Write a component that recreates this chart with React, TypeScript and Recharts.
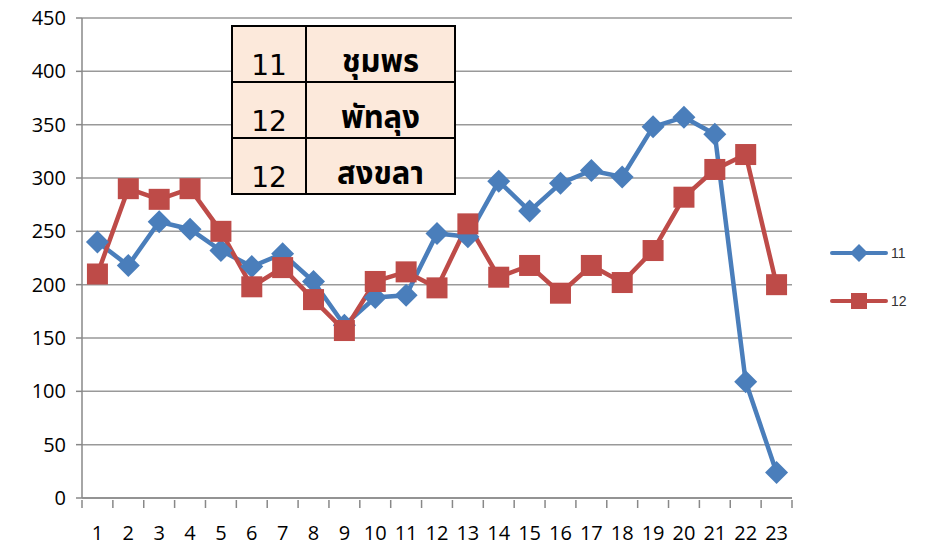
import React from "react";
import { LineChart, Line, XAxis, YAxis, CartesianGrid } from "recharts";

const categories = ["1", "2", "3", "4", "5", "6", "7", "8", "9", "10", "11", "12", "13", "14", "15", "16", "17", "18", "19", "20", "21", "22", "23"];
const series11 = [240, 218, 259, 252, 232, 217, 229, 203, 162, 188, 190, 248, 245, 297, 269, 295, 307, 301, 348, 357, 341, 109, 24];
const series12 = [210, 290, 280, 290, 250, 198, 216, 186, 157, 203, 212, 197, 257, 207, 218, 192, 218, 202, 232, 282, 308, 322, 200];
const yTicks = [0, 50, 100, 150, 200, 250, 300, 350, 400, 450];
const tableRows = [
  ["11", "ชุมพร"],
  ["12", "พัทลุง"],
  ["12", "สงขลา"],
];
const legendItems = [
  { label: "11", color: "#4A7EBB", marker: "d" },
  { label: "12", color: "#BE4B48", marker: "s" },
];

const data = categories.map((c, i) => ({ name: c, s11: series11[i], s12: series12[i] }));

const BLUE = "#4A7EBB";
const RED = "#BE4B48";
const W = 928;
const H = 545;
const M = { top: 18, right: 136, left: 0, bottom: 0 };
const Y_W = 82;
const X_H = 47;
const band = (W - M.right - Y_W) / categories.length;
const FONT = "'Liberation Sans Narrow', 'Open Sans', sans-serif";

const Diamond = (props: any) => {
  const { cx, cy } = props;
  if (cx == null || cy == null) return null;
  const r = 11.5;
  return <path d={`M${cx},${cy - r}L${cx + r},${cy}L${cx},${cy + r}L${cx - r},${cy}Z`} fill={BLUE} />;
};

const Square = (props: any) => {
  const { cx, cy } = props;
  if (cx == null || cy == null) return null;
  const r = 10.5;
  return <rect x={cx - r} y={cy - r} width={r * 2} height={r * 2} fill={RED} />;
};

const XTick = (props: any) => {
  const { x, y, payload, index } = props;
  return (
    <g>
      <line x1={x - band / 2} x2={x - band / 2} y1={y} y2={y + 8} stroke="#888" strokeWidth={1.5} />
      {index === categories.length - 1 && (
        <line x1={x + band / 2} x2={x + band / 2} y1={y} y2={y + 8} stroke="#888" strokeWidth={1.5} />
      )}
      <text x={x} y={y + 40} textAnchor="middle" fontSize={20} fill="#000" fontFamily={FONT}>
        {payload.value}
      </text>
    </g>
  );
};

const LegendBox = () => (
  <div
    style={{
      position: "absolute",
      left: 829,
      top: 229,
      fontFamily: "'Liberation Sans', Arial, sans-serif",
      fontSize: 14,
      color: "#333",
    }}
  >
    {legendItems.map((e) => (
      <div key={e.label} style={{ display: "flex", alignItems: "center", height: 48 }}>
        <svg width={60} height={20}>
          <line x1={3} x2={57} y1={10} y2={10} stroke={e.color} strokeWidth={4} strokeLinecap="round" />
          {e.marker === "d" ? (
            <path d="M30,1L39,10L30,19L21,10Z" fill={e.color} />
          ) : (
            <rect x={22} y={2} width={16} height={16} fill={e.color} />
          )}
        </svg>
        <span style={{ marginLeft: 2 }}>{e.label}</span>
      </div>
    ))}
  </div>
);

export default function App() {
  return (
    <div style={{ position: "absolute", left: 0, top: 0, width: W, height: H, background: "#fff" }}>
      <LineChart width={W} height={H} data={data} margin={M}>
        <CartesianGrid vertical={false} stroke="#999" strokeWidth={1.5} />
        <XAxis
          dataKey="name"
          height={X_H}
          tick={<XTick />}
          tickLine={false}
          tickSize={0}
          interval={0}
          padding={{ left: band / 2, right: band / 2 }}
          axisLine={{ stroke: "#888", strokeWidth: 1.5 }}
        />
        <YAxis
          width={Y_W}
          domain={[0, 450]}
          ticks={yTicks}
          interval={0}
          tickSize={6}
          tickMargin={10}
          axisLine={{ stroke: "#888", strokeWidth: 1.5 }}
          tickLine={{ stroke: "#888", strokeWidth: 1.5 }}
          tick={{ fontSize: 20, fill: "#000", fontFamily: FONT }}
        />
        <Line dataKey="s11" stroke={BLUE} strokeWidth={4.5} dot={<Diamond />} activeDot={false} isAnimationActive={false} />
        <Line dataKey="s12" stroke={RED} strokeWidth={4.5} dot={<Square />} activeDot={false} isAnimationActive={false} />
      </LineChart>
      <LegendBox />
      <table
        style={{
          position: "absolute",
          left: 231,
          top: 25,
          width: 225,
          height: 170,
          borderCollapse: "collapse",
          background: "#FCE9DB",
          border: "2px solid #000",
        }}
      >
        <tbody>
          {tableRows.map((r, i) => (
            <tr key={i} style={{ height: 56 }}>
              <td
                style={{
                  width: 72,
                  borderRight: "2px solid #000",
                  borderBottom: i < tableRows.length - 1 ? "2px solid #000" : undefined,
                  textAlign: "center",
                  verticalAlign: "bottom",
                  fontSize: 28,
                  lineHeight: "30px",
                  padding: 0,
                  fontFamily: "'DejaVu Sans', sans-serif",
                }}
              >
                {r[0]}
              </td>
              <td
                style={{
                  borderBottom: i < tableRows.length - 1 ? "2px solid #000" : undefined,
                  textAlign: "center",
                  verticalAlign: "bottom",
                  fontSize: 31,
                  fontWeight: "bold",
                  lineHeight: "36px",
                  padding: 0,
                  fontFamily: "Tahoma, 'Noto Sans Thai', 'Noto Sans', sans-serif",
                }}
              >
                {r[1]}
              </td>
            </tr>
          ))}
        </tbody>
      </table>
    </div>
  );
}
